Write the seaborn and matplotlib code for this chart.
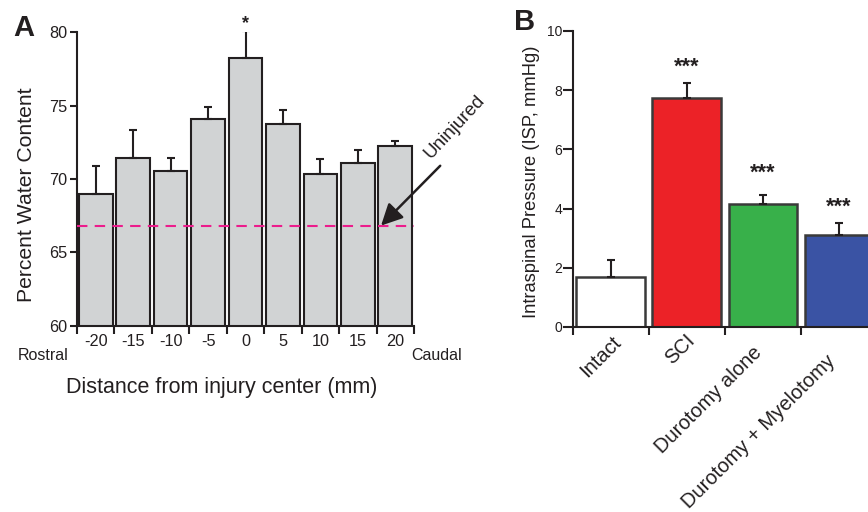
import matplotlib
matplotlib.use("Agg")
import matplotlib.pyplot as plt
import matplotlib.transforms as mtransforms
import seaborn as sns
import numpy as np
import pandas as pd

sns.set_style("ticks")
plt.rcParams['font.family'] = ['Liberation Sans', 'DejaVu Sans']

# ---- Panel A data ----
distances = ["-20", "-15", "-10", "-5", "0", "5", "10", "15", "20"]
water_mean = [69.0, 71.45, 70.55, 74.1, 78.2, 73.75, 70.35, 71.1, 72.25]
water_err = [1.9, 1.85, 0.85, 0.8, 1.85, 0.95, 1.0, 0.85, 0.35]
uninjured_level = 66.83
a_ticks = [60, 65, 70, 75, 80]

# ---- Panel B data ----
groups = ["Intact", "SCI", "Durotomy alone", "Durotomy + Myelotomy"]
isp_mean = [1.70, 7.73, 4.15, 3.11]
isp_err = [0.56, 0.53, 0.31, 0.40]
isp_colors = ["#ffffff", "#ec2227", "#38b04a", "#3a53a4"]
isp_sig = ["", "***", "***", "***"]
b_ticks = [0, 2, 4, 6, 8, 10]

fig = plt.figure(figsize=(8.68, 5.12), dpi=100)
ink = "#231f20"

# ================= Panel A =================
axA = fig.add_axes([77/868, 1-326/512, (414-77)/868, (326-32)/512])
dfA = pd.DataFrame({"dist": distances, "water": water_mean})
sns.barplot(data=dfA, x="dist", y="water", order=distances, color="#d1d3d4",
            saturation=1, width=0.9, edgecolor=ink, linewidth=1.5,
            errorbar=None, ax=axA)
xs = np.arange(len(distances))
axA.errorbar(xs, water_mean, yerr=[np.zeros(len(water_err)), water_err],
             fmt="none", ecolor=ink, elinewidth=1.5, capsize=3, capthick=1.5, zorder=1)
axA.axhline(uninjured_level, color="#ec1c8c", lw=1.5, ls=(0, (5, 3.5)), zorder=5)
axA.set_ylim(60, 80)
axA.set_xlim(-0.5, len(distances) - 0.5)
axA.set_yticks(a_ticks)
axA.set_xticks(xs)
axA.set_xticklabels(distances)
axA.set_xticks(np.arange(-0.5, len(distances), 1.0), minor=True)
axA.tick_params(axis="x", which="major", length=0, pad=6, labelsize=11.7, colors=ink)
axA.tick_params(axis="x", which="minor", length=6, width=1.5, direction="out", color=ink)
axA.tick_params(axis="y", length=5, width=1.5, labelsize=11.7, pad=2, colors=ink)
axA.set_xlabel("")
axA.set_ylabel("")
for s in ["top", "right"]:
    axA.spines[s].set_visible(False)
for s in ["left", "bottom"]:
    axA.spines[s].set_linewidth(1.5)
    axA.spines[s].set_color(ink)
axA.text(4, 80.0, "*", ha="center", va="bottom", fontsize=13, fontweight="bold", color=ink)
axA.annotate("", xy=(7.62, uninjured_level), xytext=(9.2, 70.9),
             xycoords="data", textcoords="data", annotation_clip=False,
             arrowprops=dict(arrowstyle="-|>,head_length=1.3,head_width=0.65", color=ink, lw=1.8,
                             shrinkA=0, shrinkB=0), zorder=6)
fig.text(455/868, 1-127/512, "Uninjured", rotation=47, ha="center", va="center",
         fontsize=13.5, color=ink)
fig.text(43/868, 1-355/512, "Rostral", ha="center", va="center", fontsize=11.5, color=ink)
fig.text(437/868, 1-355/512, "Caudal", ha="center", va="center", fontsize=11.5, color=ink)
fig.text(222/868, 1-388/512, "Distance from injury center (mm)", ha="center", va="center",
         fontsize=15.5, color=ink)
fig.text(27/868, 1-195/512, "Percent Water Content", rotation=90, ha="center", va="center",
         fontsize=15.2, color=ink)
fig.text(24/868, 1-28/512, "A", ha="center", va="center", fontsize=21, fontweight="bold", color=ink)

# ================= Panel B =================
axB = fig.add_axes([572.5/868, 1-327/512, (877-572.5)/868, (327-31)/512])
dfB = pd.DataFrame({"group": groups, "isp": isp_mean})
sns.barplot(data=dfB, x="group", y="isp", order=groups, hue="group", palette=isp_colors,
            legend=False, saturation=1, width=0.9, edgecolor="#3a3a3a", linewidth=1.8,
            errorbar=None, ax=axB)
xb = np.arange(len(groups))
axB.errorbar(xb, isp_mean, yerr=[np.zeros(len(isp_err)), isp_err],
             fmt="none", ecolor=ink, elinewidth=1.5, capsize=3, capthick=1.5, zorder=1)
sig_gap = [0.5, 0.5, 0.75, 0.55]
for x, m, e, s, g in zip(xb, isp_mean, isp_err, isp_sig, sig_gap):
    if s:
        axB.text(x, m + e + g, s, ha="center", va="center", fontsize=15.5, fontweight="bold",
                 color=ink)
axB.set_ylim(0, 10)
axB.set_xlim(-0.5, len(groups) - 0.5)
axB.set_yticks(b_ticks)
axB.set_xticks(xb)
axB.set_xticklabels(groups, rotation=45, ha="right", rotation_mode="anchor")
axB.set_xticks(np.arange(-0.5, len(groups), 1.0), minor=True)
axB.tick_params(axis="x", which="major", length=0, pad=10, labelsize=14.5, colors=ink)
axB.tick_params(axis="x", which="minor", length=6, width=1.5, direction="out", color=ink)
axB.tick_params(axis="y", length=7, width=1.5, labelsize=10, pad=0.5, colors=ink)
# per-label nudges (pixels: right, down)
nudges = [(1, -8), (-1, -10), (-11, 2), (-13, 11)]
for lab, (dx, dy) in zip(axB.get_xticklabels(), nudges):
    off = mtransforms.ScaledTranslation(dx/100, -dy/100, fig.dpi_scale_trans)
    lab.set_transform(lab.get_transform() + off)
axB.set_xlabel("")
axB.set_ylabel("")
for s in ["top", "right"]:
    axB.spines[s].set_visible(False)
for s in ["left", "bottom"]:
    axB.spines[s].set_linewidth(1.5)
    axB.spines[s].set_color(ink)
fig.text(531/868, 1-182/512, "Intraspinal Pressure (ISP, mmHg)", rotation=90, ha="center",
         va="center", fontsize=13.2, color=ink)
fig.text(525/868, 1-22/512, "B", ha="center", va="center", fontsize=21, fontweight="bold", color=ink)

fig.savefig("out.png", dpi=100)
